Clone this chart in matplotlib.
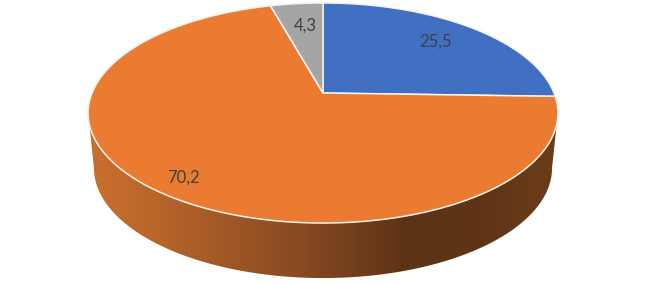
import numpy as np
import matplotlib
matplotlib.use("Agg")
import matplotlib.pyplot as plt
from matplotlib.colors import LinearSegmentedColormap
from matplotlib.patches import Polygon

values = [25.5, 70.2, 4.3]
labels = ["25,5", "70,2", "4,3"]
colors = ["#4170C2", "#EA7B30", "#A5A5A5"]

W, H = 647, 283
CX, CY = 323, 93      # apex of the pie on the page
K, A, B = 0.1818, 106.4, 231.0
DEPTH = 55

def project(theta, r=1.0):
    """theta clockwise from top, perspective map of a tilted disc to pixels"""
    u, v = r * np.sin(theta), r * np.cos(theta)
    w = 1 + K * v
    return CX + B * u / w, CY - A * v / w

fig = plt.figure(figsize=(W / 100, H / 100), dpi=100)
ax = fig.add_axes([0, 0, 1, 1])
ax.set_xlim(0, W)
ax.set_ylim(H, 0)
ax.axis("off")

# side wall: runs from the widest point of the rim round the near side
t = np.linspace(np.radians(100.5), np.radians(259.5), 400)
xt, yt = project(t)
xb = CX + (xt - CX) * 0.975
yb = yt + DEPTH
wall_pts = np.vstack([np.column_stack([xt, yt]), np.column_stack([xb, yb])[::-1]])
cmap = LinearSegmentedColormap.from_list("wall", [
    (0.00, "#C9702F"), (0.15, "#B8652A"), (0.50, "#7F4520"),
    (0.68, "#5C3315"), (0.85, "#5F3516"), (1.00, "#6E3D19")])
im = ax.imshow(np.linspace(0, 1, 256)[None, :], extent=(88, 558, H, 0), cmap=cmap,
               aspect="auto", zorder=1)
clip = Polygon(wall_pts, closed=True, transform=ax.transData, fc="none", ec="none")
ax.add_patch(clip)
im.set_clip_path(clip)
ax.set_xlim(0, W)
ax.set_ylim(H, 0)

# top face
start = 0.0
fracs = np.array(values) / np.sum(values)
for frac, color in zip(fracs, colors):
    th = np.linspace(start, start + frac * 2 * np.pi, 300)
    x, y = project(th)
    ax.fill(np.r_[CX, x], np.r_[CY, y], color=color, ec="#F7F3EE", lw=1.1,
            joinstyle="round", zorder=3)
    start += frac * 2 * np.pi

# data labels
label_pos = [(435, 42), (183, 178), (305, 26)]
for (lx, ly), s in zip(label_pos, labels):
    ax.text(lx, ly, s, ha="center", va="center", fontsize=12, family="Lato",
            color="#404040", zorder=4)

fig.savefig("out.png", dpi=100, facecolor="white")
